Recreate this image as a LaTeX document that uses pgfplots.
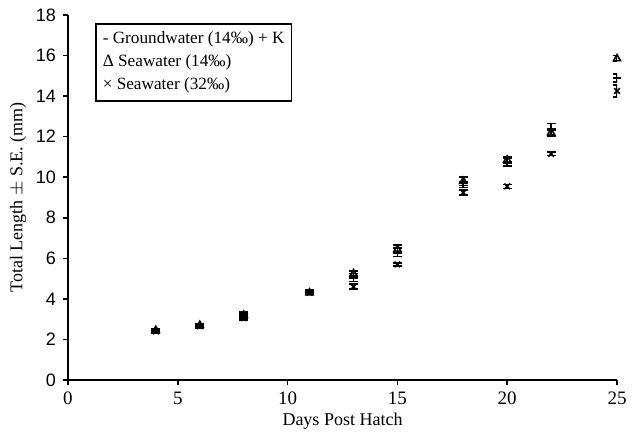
\documentclass[border=0pt]{standalone}
\usepackage{pgfplots}
\pgfplotsset{compat=1.18}
\usepackage{fontspec}
\setmainfont{Liberation Serif}
\newfontfamily\sansf{Liberation Sans}
\begin{document}
\begin{tikzpicture}
\begin{axis}[
  scale only axis, width=274.5pt, height=182.5pt,
  xmin=0, xmax=25, ymin=0, ymax=18,
  axis lines=left, axis line style={-, thick},
  xtick={0,5,...,25}, ytick={0,2,...,18},
  tick align=outside, major tick length=2.5pt,
  tick style={black, thick},
  /pgf/number format/assume math mode=true,
  xticklabel style={font=\fontsize{9.5}{11}\selectfont},
  yticklabel style={font=\sansf\fontsize{9}{11}\selectfont},
  xlabel={Days Post Hatch}, ylabel={Total Length $\pm$ S.E. (mm)},
  label style={font=\fontsize{9}{11}\selectfont},
  xlabel style={yshift=3pt}, ylabel style={yshift=-2pt},
  legend style={at={(axis cs:1.23,17.6)}, anchor=north west, draw=black, thick,
    font=\fontsize{8.6}{12.5}\selectfont, inner xsep=1.5pt, inner ysep=2pt, row sep=0pt},
  legend cell align=left,
  error bars/error bar style={black, thick},
  error bars/error mark options={black, thick, rotate=90, mark size=2.2pt},
]
\addplot[only marks, black, mark=-, mark size=2.2pt, very thick, forget plot,
  error bars/.cd, y dir=both, y explicit]
  table[x=x, y=y, y error=e] {
x y e
4 2.40 0.08
6 2.65 0.08
8 3.20 0.15
11 4.35 0.08
13 5.05 0.20
15 6.30 0.20
18 9.75 0.25
20 10.75 0.20
22 12.35 0.30
25 14.90 0.20
};
\addplot[only marks, black, mark=triangle, mark size=2pt, thick, forget plot,
  error bars/.cd, y dir=both, y explicit]
  table[x=x, y=y, y error=e] {
x y e
4 2.45 0.06
6 2.70 0.06
8 3.20 0.10
11 4.30 0.06
13 5.25 0.12
15 6.45 0.20
18 9.80 0.20
20 10.85 0.15
22 12.20 0.20
25 15.85 0.15
};
\addplot[only marks, black, mark=x, mark size=2pt, thick, forget plot,
  error bars/.cd, y dir=both, y explicit]
  table[x=x, y=y, y error=e] {
x y e
4 2.40 0.05
6 2.65 0.05
8 3.05 0.10
11 4.30 0.05
13 4.60 0.12
15 5.70 0.08
18 9.25 0.12
20 9.55 0.10
22 11.15 0.08
25 14.25 0.30
};
\addlegendimage{empty legend}\addlegendentry{- Groundwater (14‰) + K}
\addlegendimage{empty legend}\addlegendentry{Δ Seawater (14‰)}
\addlegendimage{empty legend}\addlegendentry{× Seawater (32‰)}
\end{axis}
\path ([shift={(-34pt,-28.5pt)}]current axis.south west) rectangle ([shift={(8.5pt,7.5pt)}]current axis.north east);
\end{tikzpicture}
\end{document}
